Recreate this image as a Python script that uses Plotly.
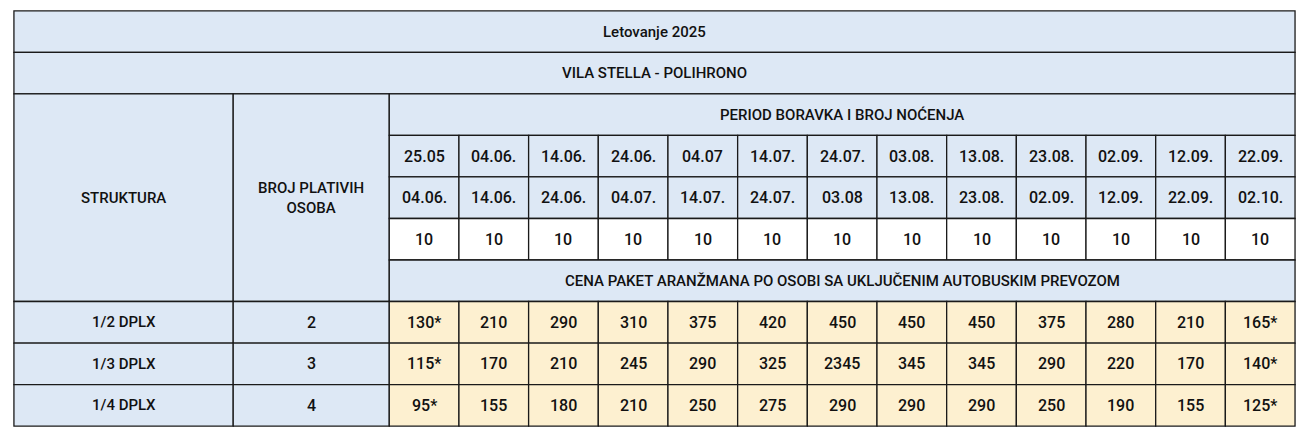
import plotly.graph_objects as go

title = "Letovanje 2025"
subtitle = "VILA STELLA - POLIHRONO"
period_label = "PERIOD BORAVKA I BROJ NOĆENJA"
price_label = "CENA PAKET ARANŽMANA PO OSOBI SA UKLJUČENIM AUTOBUSKIM PREVOZOM"
col_struct = "STRUKTURA"
col_persons = "BROJ PLATIVIH<br>OSOBA"
date_from = ["25.05", "04.06.", "14.06.", "24.06.", "04.07", "14.07.", "24.07.",
             "03.08.", "13.08.", "23.08.", "02.09.", "12.09.", "22.09."]
date_to = ["04.06.", "14.06.", "24.06.", "04.07.", "14.07.", "24.07.", "03.08",
           "13.08.", "23.08.", "02.09.", "12.09.", "22.09.", "02.10."]
nights = ["10"] * 13
structures = ["1/2 DPLX", "1/3 DPLX", "1/4 DPLX"]
persons = ["2", "3", "4"]
prices = [
    ["130*", "210", "290", "310", "375", "420", "450", "450", "450", "375", "280", "210", "165*"],
    ["115*", "170", "210", "245", "290", "325", "2345", "345", "345", "290", "220", "170", "140*"],
    ["95*", "155", "180", "210", "250", "275", "290", "290", "290", "250", "190", "155", "125*"],
]

BLUE = "#dde8f5"
YELLOW = "#fdf0d0"
LINE = "#1a1a1a"
FONT = "Roboto"

x0, x1 = 5, 1302
y0, y1 = 3, 433
c0, c1 = 227, 385
n = len(date_from)
cw = (x1 - c1) / n
rh = (y1 - y0) / 10
xs = [c1 + i * cw for i in range(n + 1)]
ry = [y0 + i * rh for i in range(11)]

shapes, anns = [], []

def cell(xa, xb, ya, yb, text, fill, size=15):
    shapes.append(dict(type="rect", x0=xa, x1=xb, y0=ya, y1=yb, fillcolor=fill,
                       line=dict(color=LINE, width=1.3), layer="below"))
    anns.append(dict(x=(xa + xb) / 2, y=(ya + yb) / 2, text=text, showarrow=False,
                     font=dict(family=FONT, size=size, color="#111", weight=500)))

cell(x0, x1, ry[0], ry[1], title, BLUE)
cell(x0, x1, ry[1], ry[2], subtitle, BLUE)
cell(x0, c0, ry[2], ry[7], col_struct, BLUE)
cell(c0, c1, ry[2], ry[7], col_persons, BLUE)
cell(c1, x1, ry[2], ry[3], period_label, BLUE)
for i in range(n):
    cell(xs[i], xs[i + 1], ry[3], ry[4], date_from[i], BLUE, 16)
    cell(xs[i], xs[i + 1], ry[4], ry[5], date_to[i], BLUE, 16)
    cell(xs[i], xs[i + 1], ry[5], ry[6], nights[i], "white", 16)
cell(c1, x1, ry[6], ry[7], price_label, BLUE)
for r in range(len(structures)):
    ya, yb = ry[7 + r], ry[8 + r]
    cell(x0, c0, ya, yb, structures[r], BLUE)
    cell(c0, c1, ya, yb, persons[r], BLUE, 16)
    for i in range(n):
        cell(xs[i], xs[i + 1], ya, yb, prices[r][i], YELLOW, 16)

# the page has an 8px body margin, so the plot area covers pixels 8..1298 / 8..428
fig = go.Figure()
fig.update_layout(width=1290, height=420, margin=dict(l=0, r=0, t=0, b=0),
                  paper_bgcolor="white", plot_bgcolor="white",
                  shapes=shapes, annotations=anns,
                  xaxis=dict(range=[-1, 1305], visible=False, fixedrange=True),
                  yaxis=dict(range=[435, 0], visible=False, fixedrange=True))
fig.write_html("out.html")
